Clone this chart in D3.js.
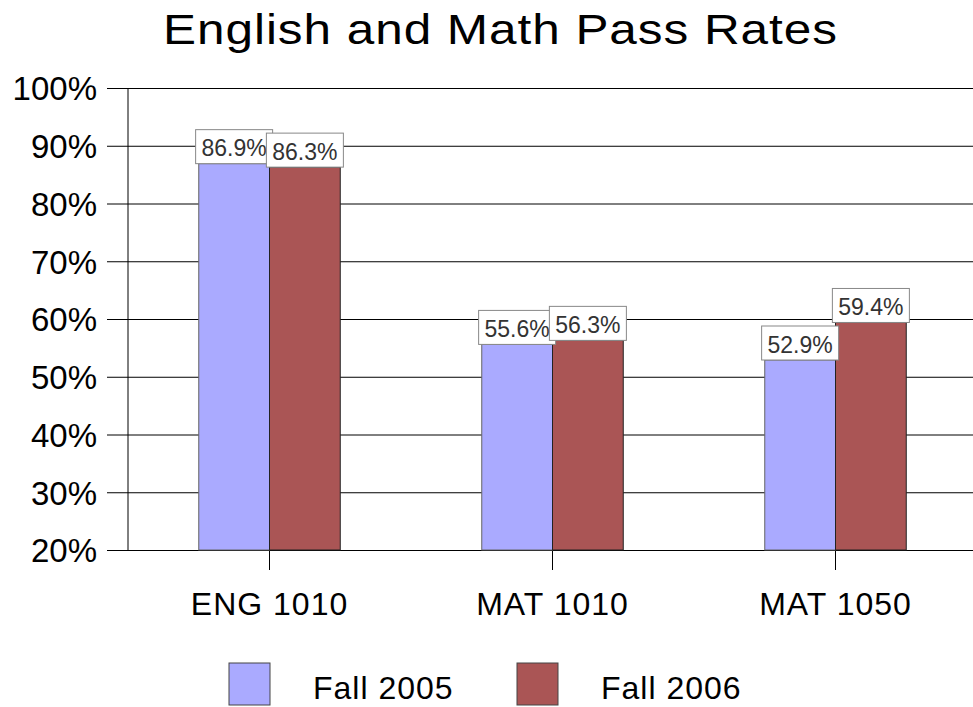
<!DOCTYPE html>
<html><head><meta charset="utf-8">
<script src="https://cdn.jsdelivr.net/npm/d3@7"></script>
<style>body{margin:0;background:#fff}svg{display:block;font-family:"Liberation Sans",Arial,sans-serif}</style>
</head><body><svg id="c" width="973" height="707"></svg>
<script>
const categories = ["ENG 1010", "MAT 1010", "MAT 1050"];
const seriesNames = ["Fall 2005", "Fall 2006"];
const fall2005 = [86.9, 55.6, 52.9];
const fall2006 = [86.3, 56.3, 59.4];
const yTicks = [20, 30, 40, 50, 60, 70, 80, 90, 100];
const colors = ["#AAAAFF", "#AA5555"];

(function () {
const svg = d3.select("#c");
const pl = 128, pr = 977, pt = 88, pb = 550;
const x = d3.scaleBand().domain(categories).range([pl, pr]).paddingInner(0).paddingOuter(0);
const y = d3.scaleLinear().domain([20, 100]).range([pb, pt]);

// title (glyphs widened horizontally to match the reference's wide face)
const tg = svg.append("g");
const title = tg.append("text").attr("x", 0).attr("y", 0).attr("text-anchor", "middle")
  .attr("font-size", 42).attr("letter-spacing", 0.8).text("English and Math Pass Rates");
const tw = title.node().getComputedTextLength();
const sx = 675 / tw;
tg.attr("transform", `translate(500.5,44) scale(${sx},1)`);

// gridlines
const yAxis = d3.axisLeft(y).tickValues(yTicks).tickFormat(d => d + "%").tickSize(0);
const gy = svg.append("g").attr("transform", `translate(${pl},0)`).call(yAxis);
gy.select(".domain").remove();
gy.selectAll(".tick line").attr("stroke", "#000").attr("stroke-width", 1).attr("x1", -21).attr("x2", 973 - pl);
gy.selectAll(".tick text").attr("font-size", 33).attr("fill", "#000").attr("x", -31).attr("dy", "0.36em");
svg.append("line").attr("x1", pl).attr("x2", pl).attr("y1", pt).attr("y2", pb).attr("stroke", "#000");

// x axis
const xAxis = d3.axisBottom(x).tickSize(20).tickPadding(0);
const gx = svg.append("g").attr("transform", `translate(0,${pb})`).call(xAxis);
gx.select(".domain").remove();
gx.selectAll(".tick line").attr("stroke", "#000");
gx.selectAll(".tick text").attr("font-size", 32).attr("fill", "#000").attr("letter-spacing", 1)
  .attr("y", 65).attr("dy", null);

// bars
const data = categories.map((c, i) => ({c, vals: [fall2005[i], fall2006[i]]}));
const groups = svg.append("g").selectAll("g").data(data).join("g")
  .attr("transform", d => `translate(${x(d.c)},0)`);
const barW = x.bandwidth() / 4;
const bx = d3.scaleBand().domain(seriesNames).range([barW, 3 * barW]);
groups.selectAll("rect").data(d => d.vals.map((v, j) => ({v, s: seriesNames[j], j})))
  .join("rect")
  .attr("x", d => bx(d.s)).attr("width", bx.bandwidth())
  .attr("y", d => y(d.v)).attr("height", d => pb - y(d.v))
  .attr("fill", d => colors[d.j]).attr("stroke", d => d.j === 0 ? "#666" : "#222").attr("stroke-width", 1);

// labels
const lab = groups.selectAll("g.lab").data(d => d.vals.map((v, j) => ({v, s: seriesNames[j], j})))
  .join("g").attr("class", "lab")
  .attr("transform", d => `translate(${bx(d.s) + bx.bandwidth() / 2},${y(d.v)})`);
lab.append("rect").attr("x", -38.5).attr("y", -34).attr("width", 77).attr("height", 34)
  .attr("fill", "#fff").attr("stroke", "#888");
lab.append("text").attr("text-anchor", "middle").attr("y", -7.5).attr("font-size", 23).attr("fill", "#333")
  .text(d => d.v.toFixed(1) + "%");

// legend
const lg = svg.append("g").selectAll("g").data(seriesNames).join("g")
  .attr("transform", (d, i) => `translate(${229 + i * 288},663)`);
lg.append("rect").attr("width", 41).attr("height", 42).attr("fill", (d, i) => colors[i]).attr("stroke", "#444");
lg.append("text").attr("x", 84).attr("y", 36).attr("font-size", 32).attr("letter-spacing", 1).text(d => d);
})();
</script></body></html>
